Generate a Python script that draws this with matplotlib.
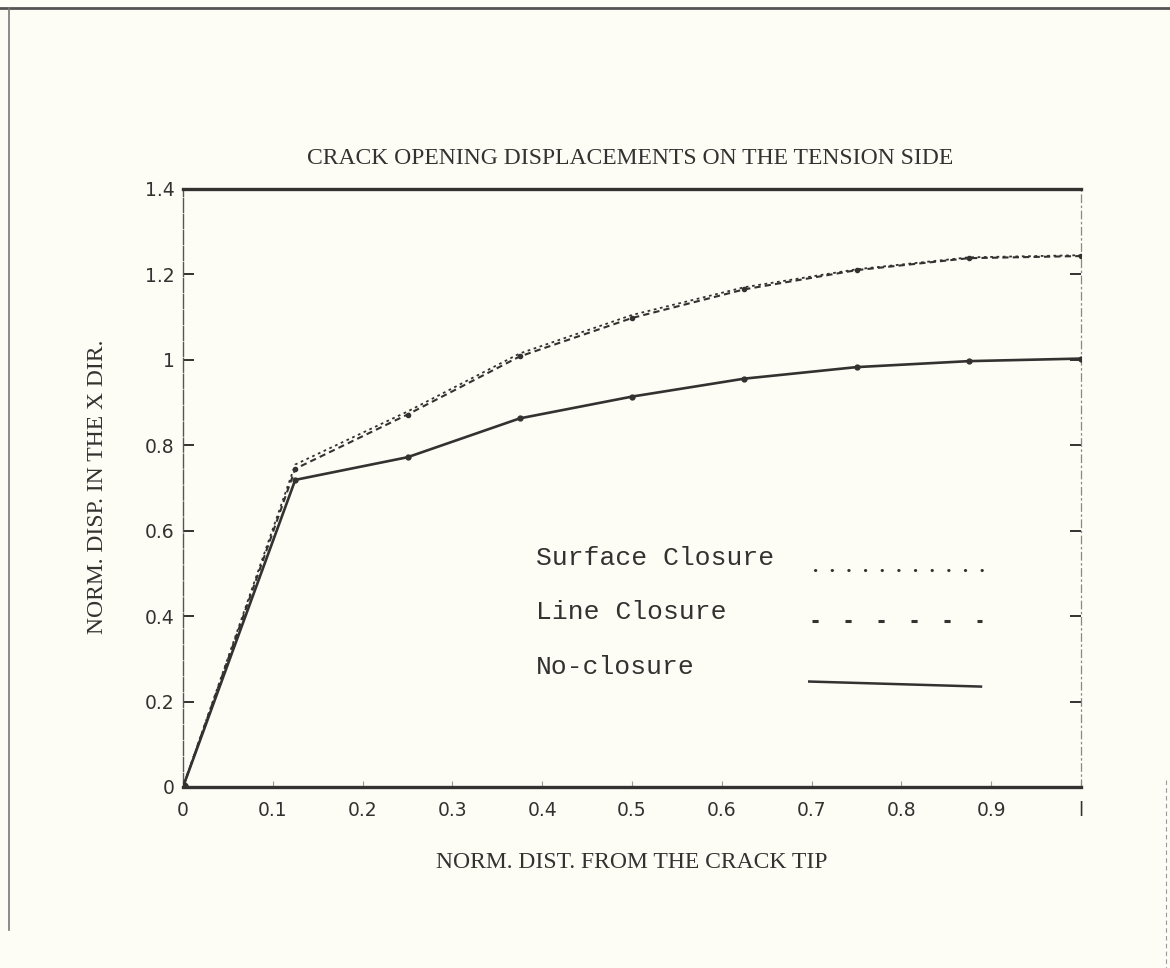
import numpy as np
import matplotlib
matplotlib.use("Agg")
import matplotlib.pyplot as plt
from matplotlib.lines import Line2D

# data
dist = [0, 0.125, 0.25, 0.375, 0.5, 0.625, 0.75, 0.875, 1.0]
surface = [0, 0.755, 0.879, 1.015, 1.105, 1.170, 1.212, 1.240, 1.245]
line_cl = [0, 0.745, 0.872, 1.008, 1.098, 1.165, 1.210, 1.238, 1.243]
noclos = [0, 0.719, 0.772, 0.863, 0.914, 0.956, 0.983, 0.997, 1.003]

xticks = [0, 0.1, 0.2, 0.3, 0.4, 0.5, 0.6, 0.7, 0.8, 0.9, 1]
xticklabels = ["0", "0.1", "0.2", "0.3", "0.4", "0.5", "0.6", "0.7", "0.8", "0.9", "l"]
yticks = [0, 0.2, 0.4, 0.6, 0.8, 1, 1.2, 1.4]
yticklabels = ["0", "0.2", "0.4", "0.6", "0.8", "1", "1.2", "1.4"]

# hand-drawn style legend (text left, sample right), in data units
leg_labels = ["Surface Closure", "Line Closure", "No-closure"]
leg_text_x = 0.393
leg_text_y = [0.535, 0.41, 0.28]
leg_line_x0 = [0.704, 0.700, 0.696]
leg_line_x1 = 0.89
leg_line_y0 = [0.507, 0.389, 0.247]
leg_line_y1 = [0.507, 0.389, 0.235]

ink = "#353131"
paper = "#fdfdf6"

W, H = 1170, 968
fig = plt.figure(figsize=(W / 100, H / 100), dpi=100, facecolor=paper)
ax = fig.add_axes([183 / W, 1 - 787 / H, 898 / W, 598 / H], facecolor=paper)

ax.plot(dist, noclos, color=ink, lw=1.9, marker="o", ms=3.5, zorder=3)
ax.plot(dist, line_cl, color=ink, lw=1.5, ls=(0, (3, 2)), marker="o", ms=3, zorder=3)
ax.plot(dist, surface, color=ink, lw=1.3, ls=(0, (1.5, 2)), zorder=3)
ax.plot([0], [0], "o", color=ink, ms=7, zorder=4)

ax.set_xlim(0, 1)
ax.set_ylim(0, 1.4)
ax.set_xticks(xticks)
ax.set_xticklabels(xticklabels)
ax.set_yticks(yticks)
ax.set_yticklabels(yticklabels)
ax.tick_params(axis="y", direction="in", length=8, width=1.4, color=ink,
               right=True, labelsize=13.5, labelcolor=ink, pad=6)
ax.tick_params(axis="x", direction="in", length=4, width=0.8, color="#999999",
               labelsize=13.5, labelcolor=ink, pad=10)

for s in ["top", "bottom"]:
    ax.spines[s].set_linewidth(2.4)
    ax.spines[s].set_color(ink)
ax.spines["left"].set_linewidth(1.0)
ax.spines["left"].set_color("#555555")
ax.spines["left"].set_linestyle((0, (10, 1.5)))
ax.spines["right"].set_linewidth(0.9)
ax.spines["right"].set_color("#888888")
ax.spines["right"].set_linestyle((0, (6, 3, 1, 3)))

leg_styles = [(0, (0.1, 5.35)), (0, (2.0, 8.8)), "-"]
leg_caps = ["round", "butt", "butt"]
leg_lw = [2.2, 2.2, 1.8]
for i, lab in enumerate(leg_labels):
    ax.text(leg_text_x, leg_text_y[i], lab, fontsize=19,
            family="Liberation Mono", color=ink, va="center", ha="left")
    ax.plot([leg_line_x0[i], leg_line_x1], [leg_line_y0[i], leg_line_y1[i]],
            color=ink, lw=leg_lw[i], ls=leg_styles[i],
            dash_capstyle=leg_caps[i], solid_capstyle="butt")

fig.text(630 / W, 1 - 159 / H, "CRACK OPENING DISPLACEMENTS ON THE TENSION SIDE",
         ha="center", va="center", fontsize=17, family="Liberation Serif", color=ink)
fig.text(632 / W, 1 - 862 / H, "NORM. DIST. FROM THE CRACK TIP",
         ha="center", va="center", fontsize=17, family="Liberation Serif", color=ink)
fig.text(98 / W, 1 - 487 / H, "NORM. DISP. IN THE X DIR.", rotation=90,
         ha="center", va="center", fontsize=17, family="Liberation Serif", color=ink)

# scanned page frame
fig.add_artist(Line2D([0, 1], [1 - 8 / H, 1 - 8 / H], transform=fig.transFigure,
                      color="#555555", lw=2))
fig.add_artist(Line2D([9 / W, 9 / W], [1 - 8 / H, 1 - 930 / H], transform=fig.transFigure,
                      color="#777777", lw=1.2))
fig.add_artist(Line2D([1166 / W, 1166 / W], [1 - 780 / H, 0], transform=fig.transFigure,
                      color="#999999", lw=0.8, ls=(0, (4, 3))))

fig.savefig("out.png", dpi=100, facecolor=paper)
